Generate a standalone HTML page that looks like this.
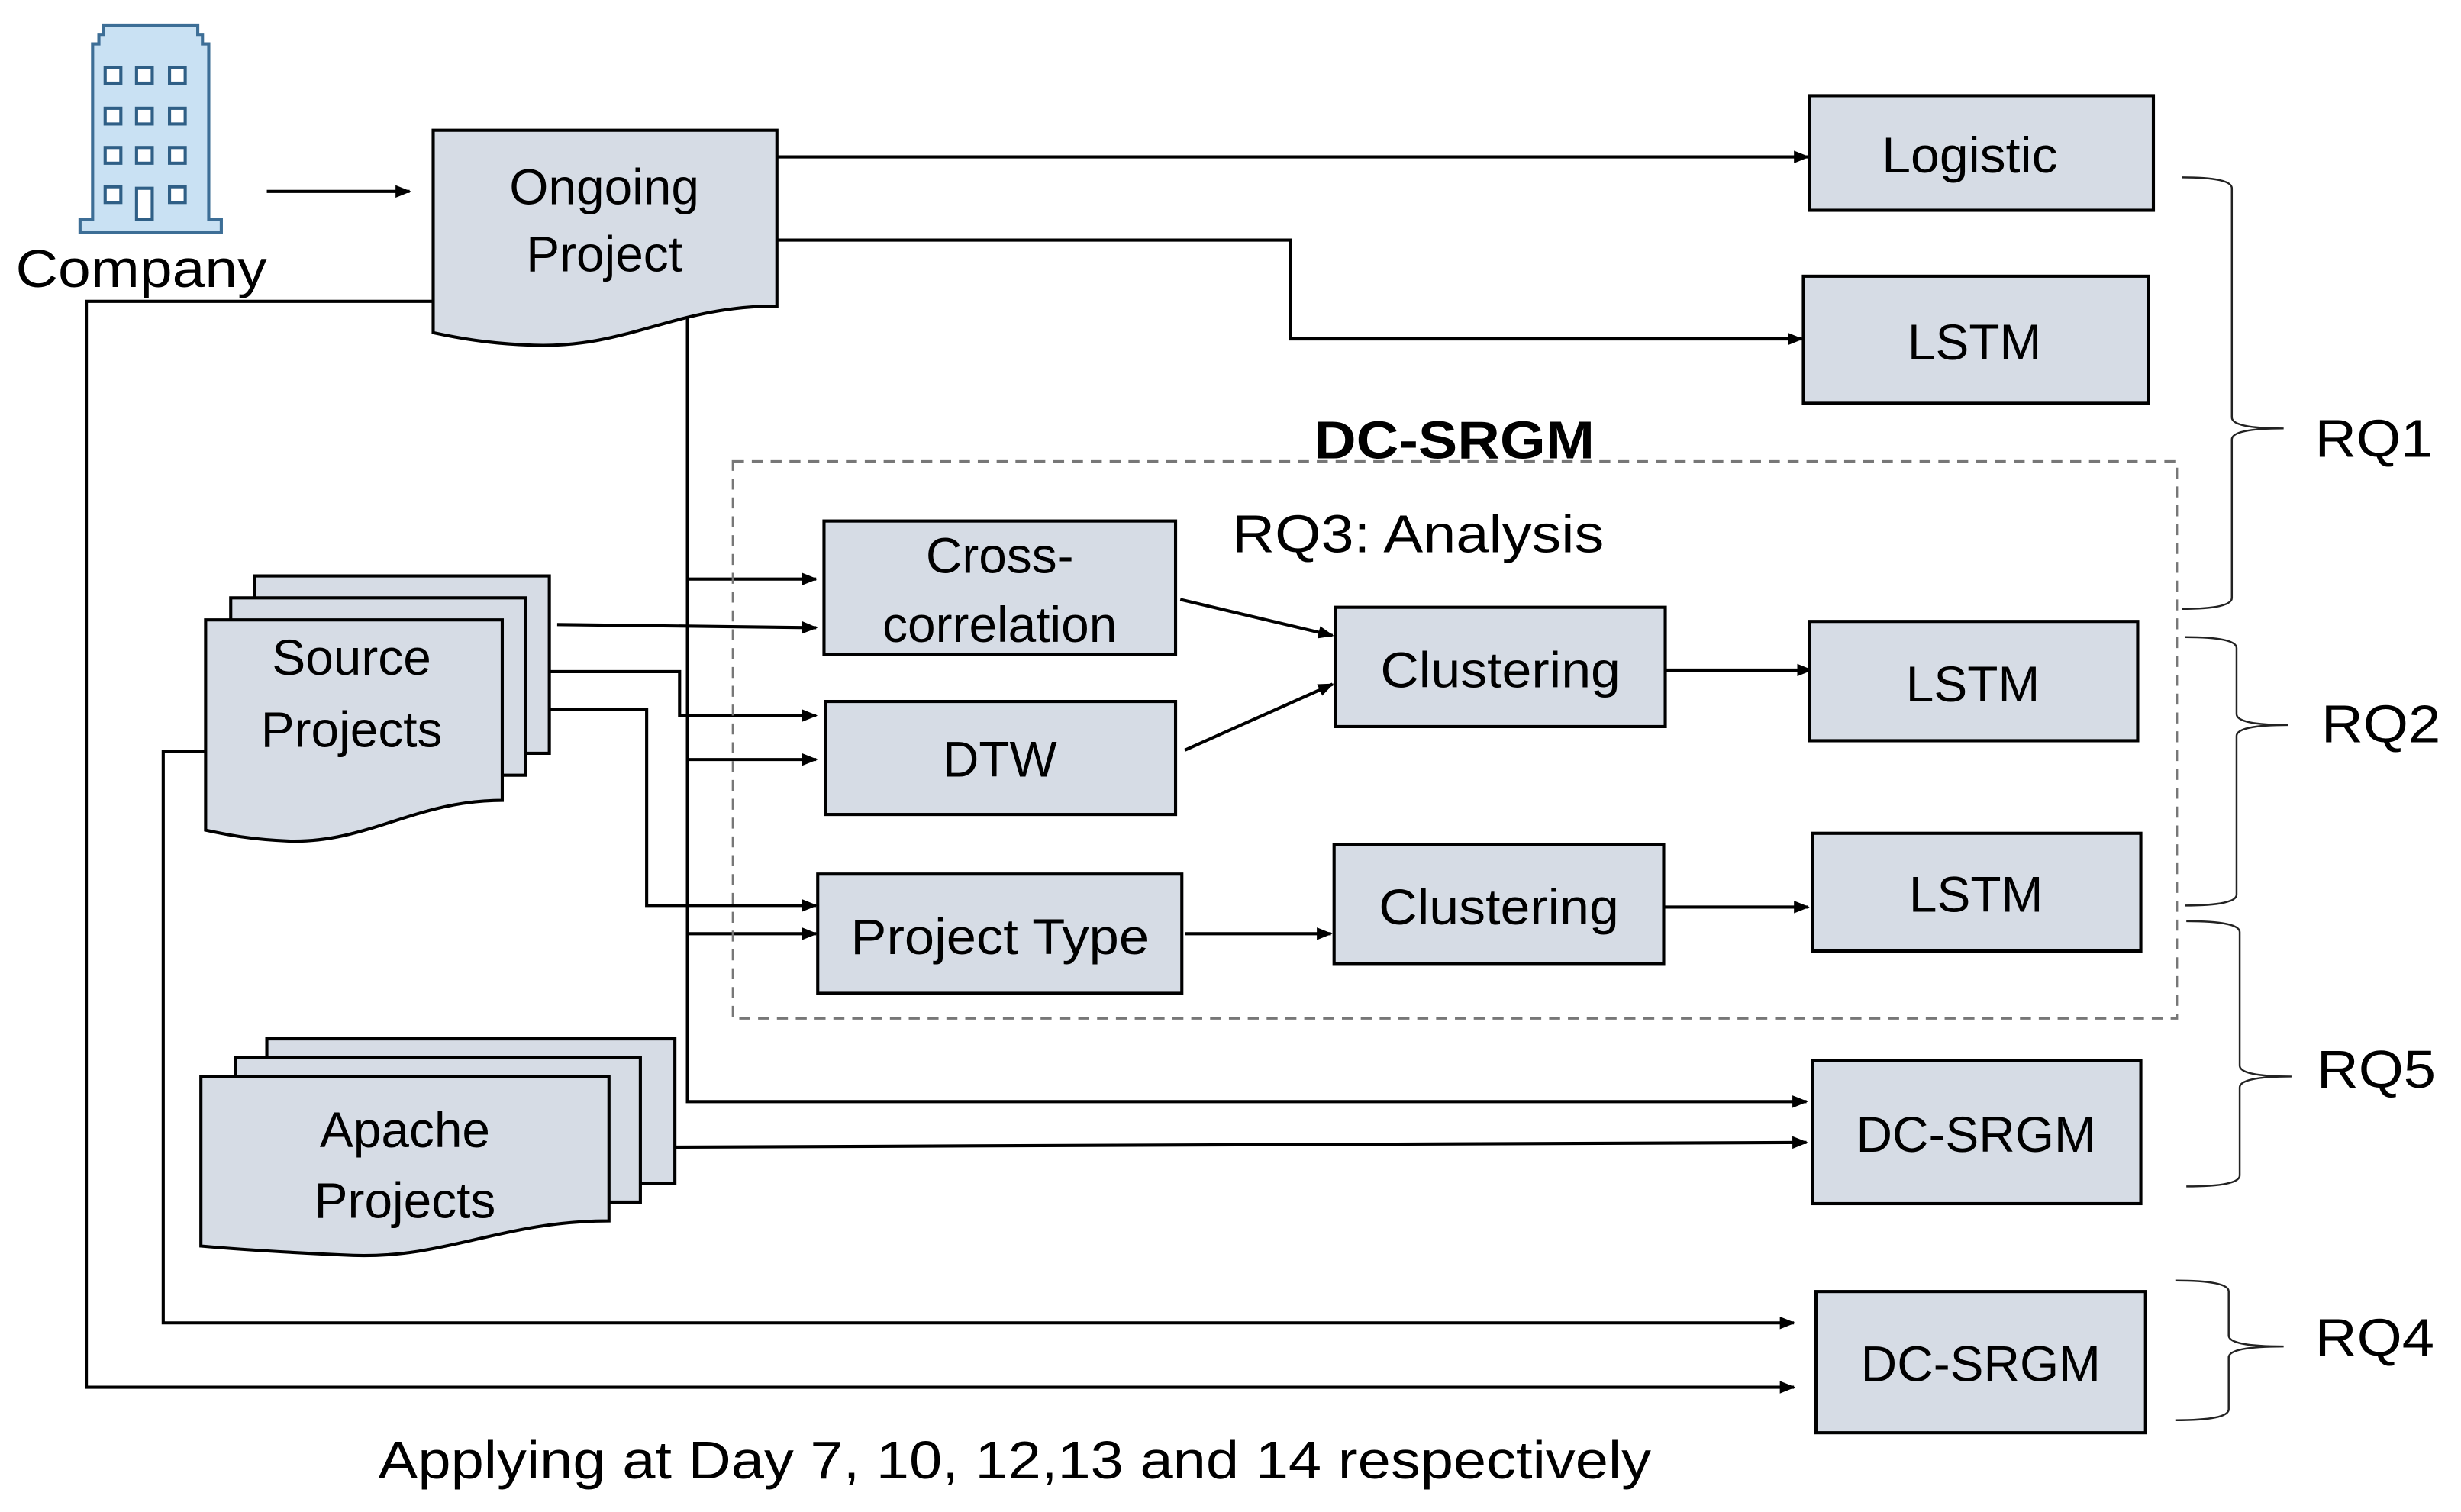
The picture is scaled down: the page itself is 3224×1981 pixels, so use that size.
<!DOCTYPE html>
<html><head><meta charset="utf-8"><style>
html,body{margin:0;padding:0;background:#fff}
svg{display:block}
text{font-family:"Liberation Sans",sans-serif;fill:#000}
</style></head><body>
<svg width="3224" height="1981" viewBox="0 0 1568 963.5" preserveAspectRatio="none" xmlns="http://www.w3.org/2000/svg">
<defs>
<marker id="a" markerWidth="10" markerHeight="8" refX="9" refY="4" orient="auto" markerUnits="userSpaceOnUse">
<path d="M0,0 L10,4 L0,8 Z" fill="#000"/></marker>
</defs>
<g fill="#d6dce5" stroke="#000" stroke-width="2">
<path d="M66,16 H126 V22 H129 V28 H133 V140 H141 V148 H51 V140 H59 V28 H63 V22 H66 Z" fill="#c9e1f3" stroke="#3d6e96"/>
</g>
<g fill="#fff" stroke="#2f5f86" stroke-width="2">
<rect x="67" y="43" width="10" height="10"/><rect x="87" y="43" width="10" height="10"/><rect x="108" y="43" width="10" height="10"/>
<rect x="67" y="69" width="10" height="10"/><rect x="87" y="69" width="10" height="10"/><rect x="108" y="69" width="10" height="10"/>
<rect x="67" y="94" width="10" height="10"/><rect x="87" y="94" width="10" height="10"/><rect x="108" y="94" width="10" height="10"/>
<rect x="67" y="119" width="10" height="10"/><rect x="87" y="120" width="10" height="20"/><rect x="108" y="119" width="10" height="10"/>
</g>
<text x="10" y="183" font-size="34" textLength="160" lengthAdjust="spacingAndGlyphs">Company</text>

<g stroke="#000" stroke-width="2" fill="none">
<line x1="170" y1="122" x2="261" y2="122" marker-end="url(#a)"/>
<line x1="495" y1="100" x2="1152" y2="100" marker-end="url(#a)"/>
<polyline points="495,153 822,153 822,216 1148,216" marker-end="url(#a)"/>
<polyline points="438,200 438,702 1151,702" marker-end="url(#a)"/>
<line x1="438" y1="369" x2="520" y2="369" marker-end="url(#a)"/>
<line x1="438" y1="484" x2="520" y2="484" marker-end="url(#a)"/>
<line x1="438" y1="595" x2="520" y2="595" marker-end="url(#a)"/>
<line x1="355" y1="398" x2="520" y2="400" marker-end="url(#a)"/>
<polyline points="350,428 433,428 433,456 520,456" marker-end="url(#a)"/>
<polyline points="350,452 412,452 412,577 520,577" marker-end="url(#a)"/>
<line x1="430" y1="731" x2="1151" y2="728" marker-end="url(#a)"/>
<polyline points="276,192 55,192 55,884 1143,884" marker-end="url(#a)"/>
<polyline points="131,479 104,479 104,843 1143,843" marker-end="url(#a)"/>
<line x1="752" y1="382" x2="849" y2="405" marker-end="url(#a)"/>
<line x1="755" y1="478" x2="849" y2="436" marker-end="url(#a)"/>
<line x1="1061" y1="427" x2="1154" y2="427" marker-end="url(#a)"/>
<line x1="755" y1="595" x2="848" y2="595" marker-end="url(#a)"/>
<line x1="1060" y1="578" x2="1152" y2="578" marker-end="url(#a)"/>
<rect x="467" y="294" width="920" height="355" stroke="#777" stroke-width="1.5" stroke-dasharray="7,5"/>
<g stroke="#222" stroke-width="1.2">
<path d="M1390,113 Q1422,113 1422,120 V266 Q1422,273 1455,273 Q1422,273 1422,280 V381 Q1422,388 1390,388"/>
<path d="M1392,406 Q1425,406 1425,413 V455 Q1425,462 1458,462 Q1425,462 1425,469 V570 Q1425,577 1392,577"/>
<path d="M1393,587 Q1427,587 1427,594 V679 Q1427,686 1460,686 Q1427,686 1427,693 V749 Q1427,756 1393,756"/>
<path d="M1386,816 Q1420,816 1420,823 V851 Q1420,858 1455,858 Q1420,858 1420,865 V898 Q1420,905 1386,905"/>
</g>
</g>

<g fill="#d6dce5" stroke="#000" stroke-width="2">
<path d="M276,83 H495 V195 C430,195 400,222 340,220 C310,219 290,215 276,212 Z"/>
<path d="M162,367 H350 V480 H162 Z"/>
<path d="M147,381 H335 V494 H147 Z"/>
<path d="M131,395 H320 V510 C265,510 235,537 185,536 C160,535 145,532 131,529 Z"/>
<path d="M170,662 H430 V754 H170 Z"/>
<path d="M150,674 H408 V766 H150 Z"/>
<path d="M128,686 H388 V778 C320,778 285,802 225,800 C180,798 150,796 128,794 Z"/>
<rect x="1153" y="61" width="219" height="73"/>
<rect x="1149" y="176" width="220" height="81"/>
<rect x="525" y="332" width="224" height="85"/>
<rect x="526" y="447" width="223" height="72"/>
<rect x="851" y="387" width="210" height="76"/>
<rect x="1153" y="396" width="209" height="76"/>
<rect x="521" y="557" width="232" height="76"/>
<rect x="850" y="538" width="210" height="76"/>
<rect x="1155" y="531" width="209" height="75"/>
<rect x="1155" y="676" width="209" height="91"/>
<rect x="1157" y="823" width="210" height="90"/>
</g>

<g font-size="32" text-anchor="middle">
<text x="385" y="130">Ongoing</text>
<text x="385" y="173">Project</text>
<text x="224" y="430">Source</text>
<text x="224" y="476">Projects</text>
<text x="258" y="731">Apache</text>
<text x="258" y="776">Projects</text>
<text x="1255" y="110" textLength="112" lengthAdjust="spacingAndGlyphs">Logistic</text>
<text x="1258" y="229">LSTM</text>
<text x="637" y="365">Cross-</text>
<text x="637" y="409">correlation</text>
<text x="637" y="495">DTW</text>
<text x="956" y="438" textLength="153" lengthAdjust="spacingAndGlyphs">Clustering</text>
<text x="1257" y="447">LSTM</text>
<text x="637" y="608" textLength="190" lengthAdjust="spacingAndGlyphs">Project Type</text>
<text x="955" y="589" textLength="153" lengthAdjust="spacingAndGlyphs">Clustering</text>
<text x="1259" y="581">LSTM</text>
<text x="1259" y="734">DC-SRGM</text>
<text x="1262" y="880">DC-SRGM</text>
</g>
<g font-size="34">
<text x="837" y="292" font-weight="bold" textLength="179" lengthAdjust="spacingAndGlyphs">DC-SRGM</text>
<text x="785" y="352" textLength="237" lengthAdjust="spacingAndGlyphs">RQ3: Analysis</text>
<text x="1475" y="291" textLength="75" lengthAdjust="spacingAndGlyphs">RQ1</text>
<text x="1479" y="473" textLength="76" lengthAdjust="spacingAndGlyphs">RQ2</text>
<text x="1476" y="693" textLength="76" lengthAdjust="spacingAndGlyphs">RQ5</text>
<text x="1475" y="864" textLength="76" lengthAdjust="spacingAndGlyphs">RQ4</text>
<text x="241" y="942" textLength="811" lengthAdjust="spacingAndGlyphs">Applying at Day 7, 10, 12,13 and 14 respectively</text>
</g>
</svg>
</body></html>
